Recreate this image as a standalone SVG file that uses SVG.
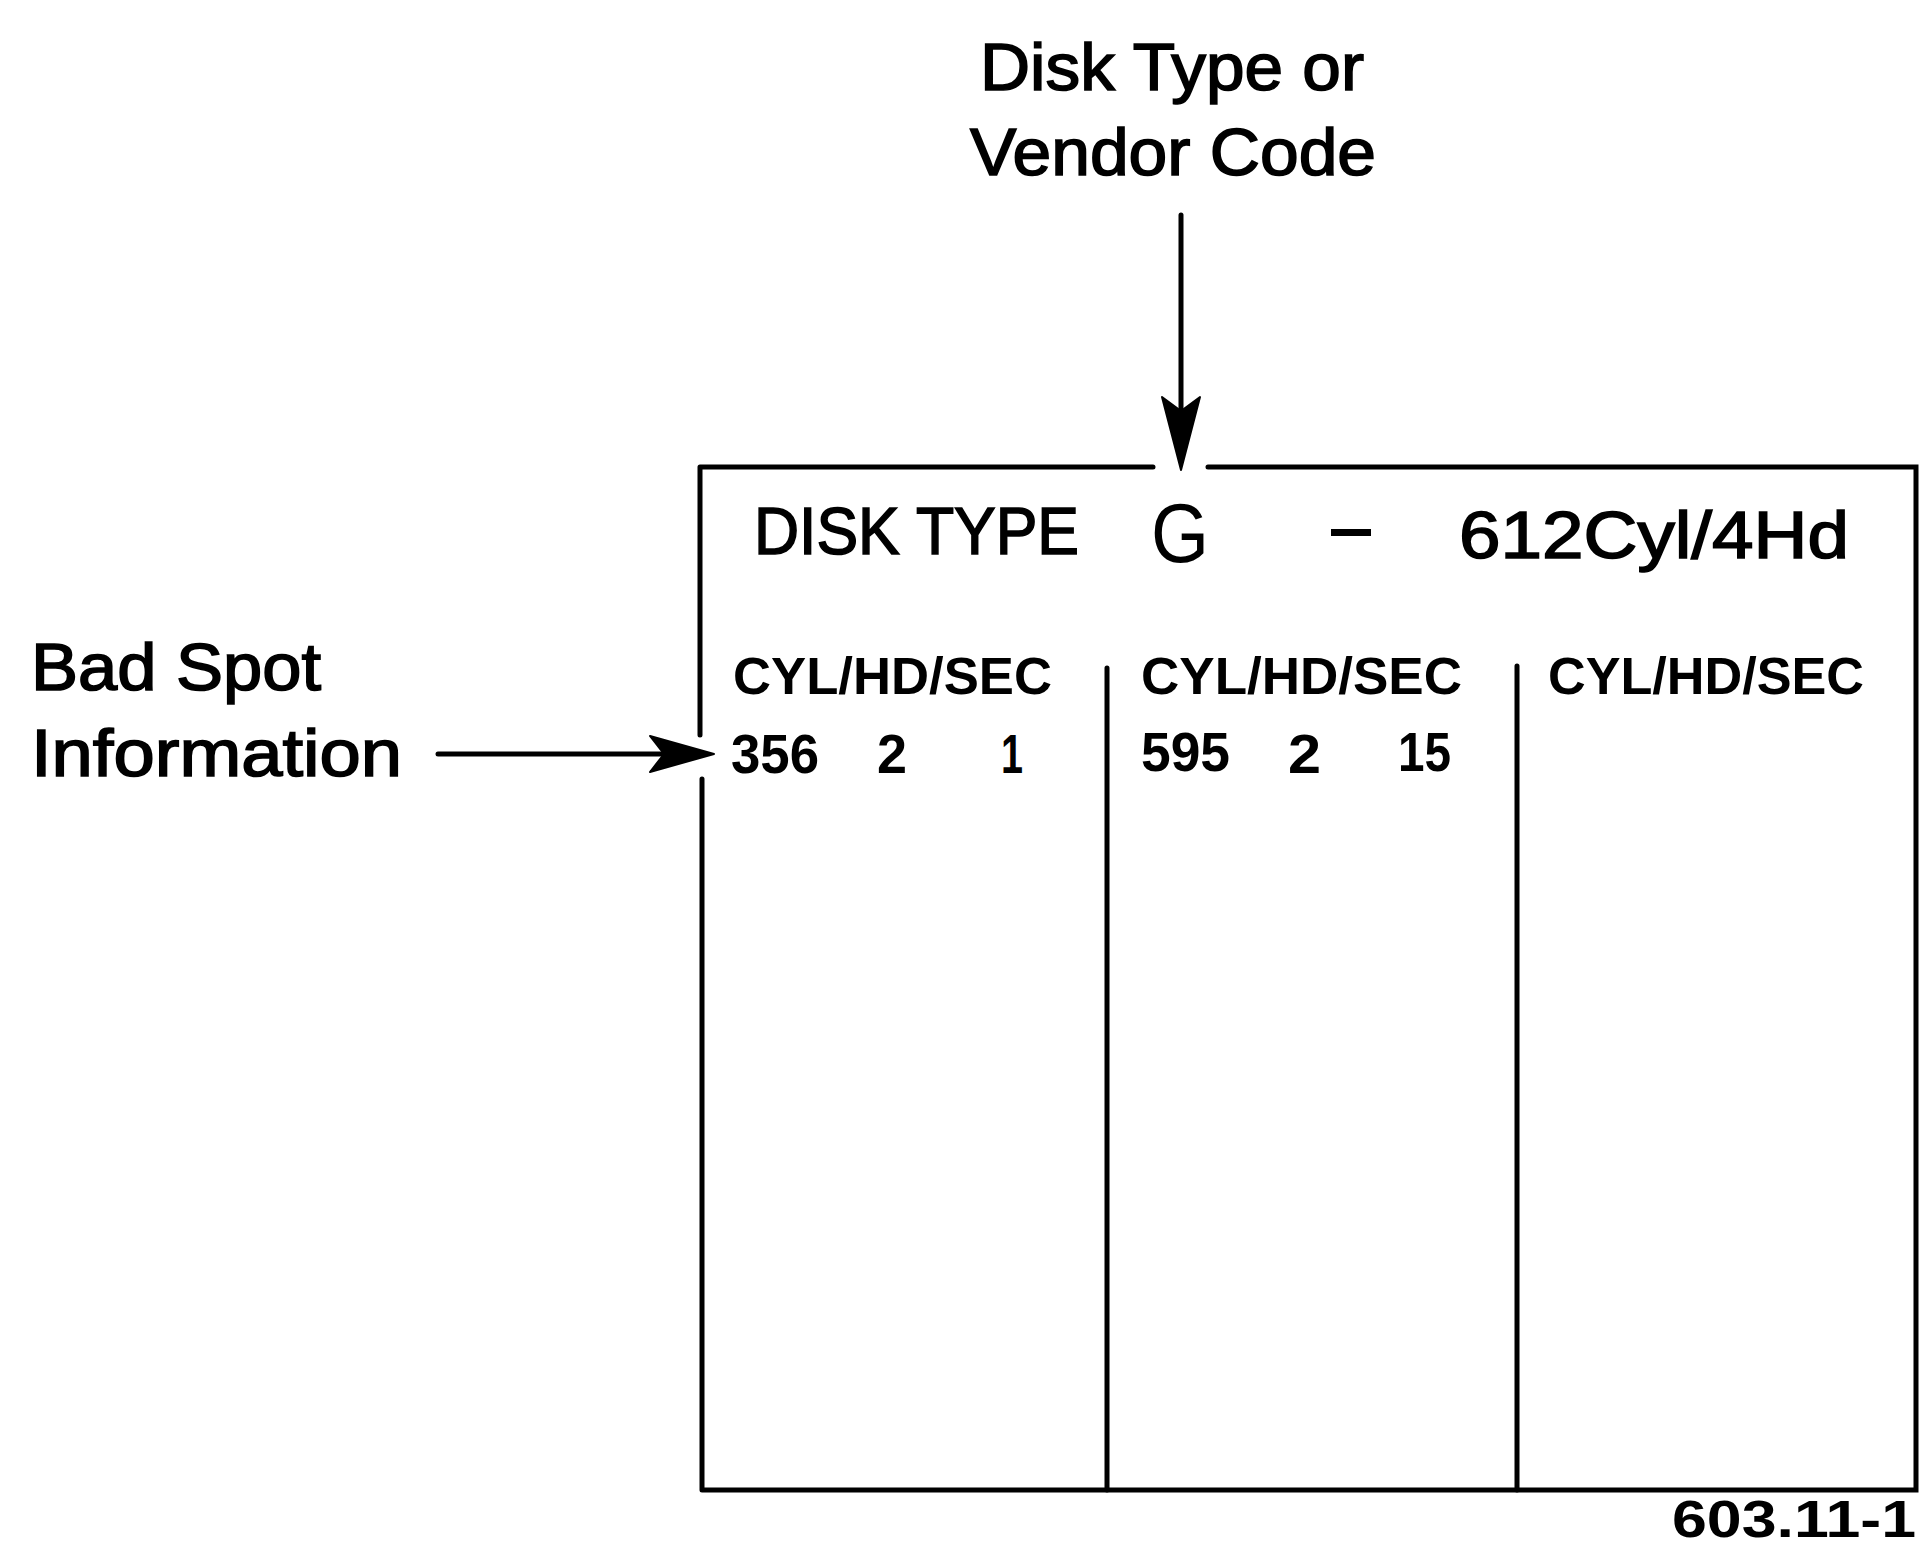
<svg xmlns="http://www.w3.org/2000/svg" width="1923" height="1550" viewBox="0 0 1923 1550">
<style>
.ln{stroke:#000;stroke-width:5;fill:none;stroke-linecap:round}
.lbl{font-family:"Liberation Sans",Arial,sans-serif;fill:#000;stroke:#000;stroke-width:1.6;font-size:66px}
.hdr{font-family:"Liberation Sans",Arial,sans-serif;fill:#000;font-size:52px;font-weight:bold}
.num{font-family:"Liberation Sans",Arial,sans-serif;fill:#000;font-size:55px;font-weight:bold}
.ah{fill:#000;stroke:#000;stroke-width:2;stroke-linejoin:round}
</style>
<rect width="1923" height="1550" fill="#fff"/>
<g id="label-disk-type">
<text class="lbl" x="980" y="90" textLength="384" lengthAdjust="spacingAndGlyphs">Disk Type or</text>
<text class="lbl" x="970" y="175" textLength="406" lengthAdjust="spacingAndGlyphs">Vendor Code</text>
</g>
<g id="label-bad-spot">
<text class="lbl" x="31" y="690" textLength="290" lengthAdjust="spacingAndGlyphs">Bad Spot</text>
<text class="lbl" x="31" y="776" textLength="371" lengthAdjust="spacingAndGlyphs">Information</text>
</g>
<g id="table">
<path class="ln" d="M700,467 H1153 M1208,467 H1916 V1490 H702 M700,467 V735 M702,779 V1490"/>
<path class="ln" d="M1107,668 V1490 M1517,666 V1490"/>
<text class="lbl" x="754" y="554" font-size="66" textLength="325" lengthAdjust="spacingAndGlyphs">DISK TYPE</text>
<text x="1151" y="562" font-family="Liberation Sans,Arial,sans-serif" font-size="84" fill="#000" textLength="58" lengthAdjust="spacingAndGlyphs">G</text>
<rect x="1331" y="529" width="40" height="7" fill="#000"/>
<text class="lbl" x="1459" y="558" font-size="63" textLength="390" lengthAdjust="spacingAndGlyphs">612Cyl/4Hd</text>
<text class="hdr" x="733" y="694" textLength="319" lengthAdjust="spacingAndGlyphs">CYL/HD/SEC</text>
<text class="hdr" x="1141" y="694" textLength="321" lengthAdjust="spacingAndGlyphs">CYL/HD/SEC</text>
<text class="hdr" x="1548" y="694" textLength="316" lengthAdjust="spacingAndGlyphs">CYL/HD/SEC</text>
<text class="num" x="731" y="773" textLength="88" lengthAdjust="spacingAndGlyphs">356</text>
<text class="num" x="877" y="773" textLength="30" lengthAdjust="spacingAndGlyphs">2</text>
<text class="num" x="1001" y="773" textLength="22" lengthAdjust="spacingAndGlyphs">1</text>
<text class="num" x="1141" y="771" textLength="89" lengthAdjust="spacingAndGlyphs">595</text>
<text class="num" x="1288" y="773" textLength="33" lengthAdjust="spacingAndGlyphs">2</text>
<text class="num" x="1398" y="771" textLength="53" lengthAdjust="spacingAndGlyphs">15</text>
</g>
<g id="figure-number">
<text class="hdr" x="1672" y="1537" font-size="50" textLength="244" lengthAdjust="spacingAndGlyphs">603.11-1</text>
</g>
<g id="connectors">
<path class="ln" d="M1181,215 V410"/>
<path class="ah" d="M1181,470 L1162,397 L1181,411 L1200,397 Z"/>
<path class="ln" d="M438,754 H664"/>
<path class="ah" d="M714,754 L650,736 L664,754 L650,772 Z"/>
</g>
</svg>
